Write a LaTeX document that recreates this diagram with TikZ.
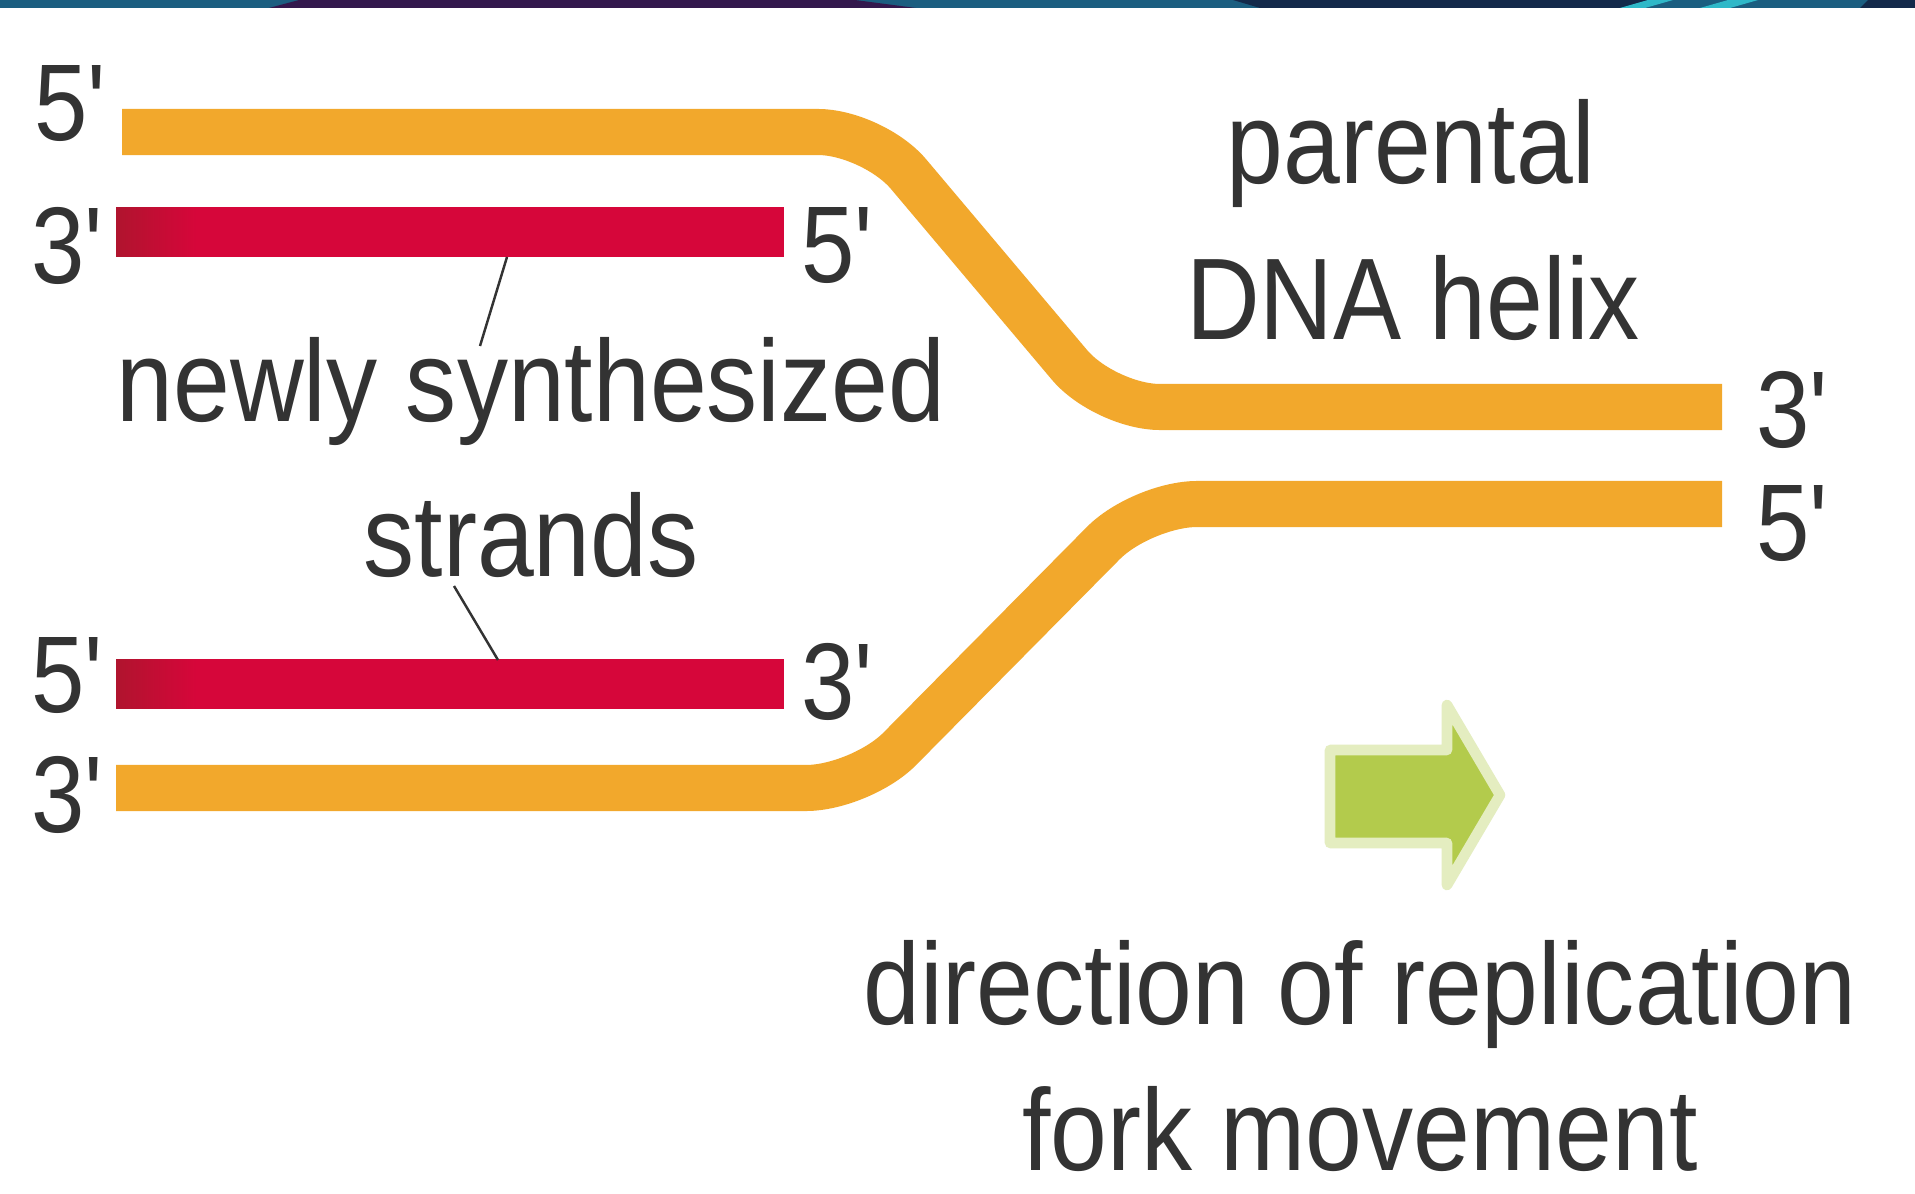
\documentclass[tikz,border=0pt]{standalone}
\usepackage{fontspec}
\newfontfamily\lab[FakeStretch=0.88]{Liberation Sans}
\definecolor{strandorange}{HTML}{F2A82C}
\definecolor{strandred}{HTML}{D6063A}
\definecolor{strandreddark}{HTML}{B0142E}
\definecolor{arrowgreen}{HTML}{B3CB4C}
\definecolor{bandteal}{HTML}{1B5E80}
\definecolor{bandpurple}{HTML}{33184D}
\definecolor{bandnavy}{HTML}{13294A}
\definecolor{bandcyan}{HTML}{2FB8C8}
\pgfdeclarehorizontalshading{redstrandshade}{100bp}{color(0bp)=(strandreddark); color(25bp)=(strandreddark); color(31bp)=(strandred); color(100bp)=(strandred)}
\begin{document}
\begin{tikzpicture}[x=0.01cm,y=-0.01cm,
  lbl/.style={font=\lab\fontsize{33}{40}\selectfont, text=black!80, inner sep=0pt, anchor=base},
  num/.style={font=\lab\fontsize{31}{36}\selectfont, text=black!80, inner sep=0pt},
  parstrand/.style={draw=strandorange, line width=0.46cm, rounded corners=0.55cm},
  newstrand/.style={inner sep=0pt, minimum width=6.66cm, minimum height=0.48cm, anchor=west},
  redfill/.style={shading=redstrandshade},
  pointer/.style={draw=black!80, line width=0.7pt},
  fwdarrow/.style={fill=arrowgreen, draw=arrowgreen!35, line width=3pt, line join=round}]
\useasboundingbox[fill=white] (0,0) rectangle (1915,1194);
% top decorative band
\fill[bandteal] (0,0) rectangle (1915,8);
\fill[bandpurple] (299,0) -- (855,0) -- (916,8) -- (269,8) -- cycle;
\fill[bandnavy] (1233,0) -- (1648,0) -- (1620,8) -- (1260,8) -- cycle;
\fill[bandcyan] (1648,0) -- (1673,0) -- (1645,8) -- (1620,8) -- cycle;
\fill[bandcyan] (1728,0) -- (1758,0) -- (1730,8) -- (1700,8) -- cycle;
\fill[bandnavy] (1868,0) -- (1915,0) -- (1915,8) -- (1860,8) -- cycle;
% parental strands
\draw[parstrand] (122,132) -- (873,132) -- (1105,407) -- (1722,407);
\draw[parstrand] (116,788) -- (861,788) -- (1142,504) -- (1722,504);
% new strands
\node[newstrand] (red1) at (116,232) {};
\node[newstrand] (red2) at (116,684) {};
\shade[redfill] (red1.north west) rectangle (red1.south east);
\shade[redfill] (red2.north west) rectangle (red2.south east);
% end labels
\node[num] (l5a) at (70,104) {5'};
\node[num] (l3a) at (67,246) {3'};
\node[num] (r5a) at (837,246) {5'};
\node[num] (l5b) at (67,676) {5'};
\node[num] (r3b) at (837,682) {3'};
\node[num] (l3b) at (67,795) {3'};
\node[num] (r3c) at (1792,410) {3'};
\node[num] (r5c) at (1792,524) {5'};
% text labels
\node[lbl] (newly) at (531,421) {newly synthesized};
\node[lbl] (strands) at (531,576) {strands};
\node[lbl] (parental) at (1411,184) {parental};
\node[lbl] (dna) at (1413,340) {DNA helix};
\node[lbl] (dir) at (1360,1024) {direction of replication};
\node[lbl] (fork) at (1360,1170) {fork movement};
% pointers
\coordinate (p1a) at (507,257);
\coordinate (p1b) at (480,346);
\coordinate (p2a) at (454,586);
\coordinate (p2b) at (498,660);
\draw[pointer] (p1a) -- (p1b);
\draw[pointer] (p2a) -- (p2b);
% direction arrow
\path[fwdarrow] (1330,750) -- (1447,750) -- (1447,705) -- (1500,795) -- (1447,885) -- (1447,843) -- (1330,843) -- cycle;
\end{tikzpicture}
\end{document}
